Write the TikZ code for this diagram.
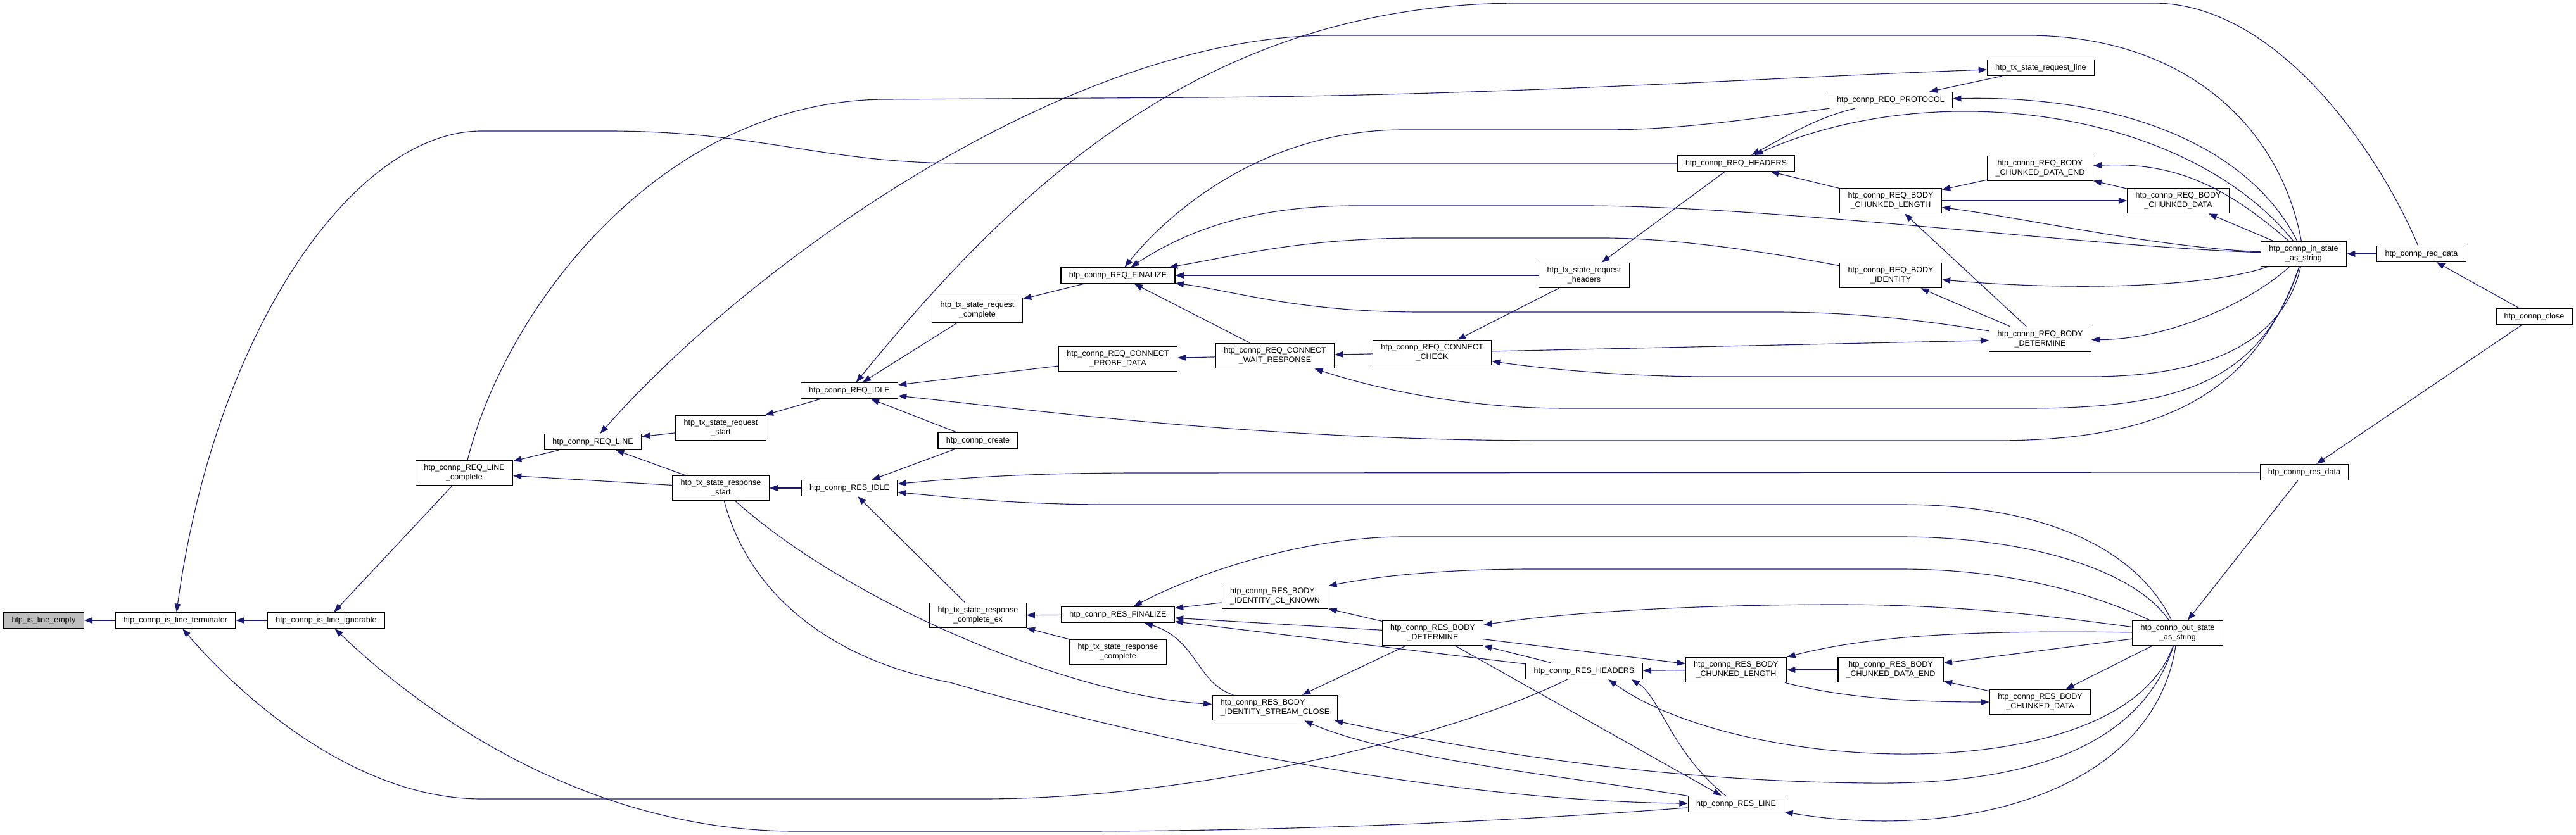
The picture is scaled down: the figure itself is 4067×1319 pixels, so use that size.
\documentclass[tikz,border=0pt]{standalone}
\usepackage{fontspec}
\setmainfont{Liberation Sans}
\usepackage{xcolor}
\usepackage{tikz}
\usetikzlibrary{
    arrows.meta
}
\definecolor{callblue}{RGB}{25,25,112}

\begin{document}
\begin{tikzpicture}[
        x=0.025cm, y=-0.025cm,
        fn/.style={
            rectangle,
            draw=black,
            line width=0.9pt,
            fill=white,
            align=center,
            font=\fontsize{8.9}{10.7}\selectfont,
            inner xsep=0.32cm,
            inner ysep=0.16cm,
            minimum height=0.625cm
        },
        focus/.style={
            fn,
            fill=black!25
        },
        call/.style={
            -{Triangle[length=0.33cm,width=0.24cm]},
            draw=callblue,
            line width=0.8pt
        }
    ]

    \useasboundingbox (0,0) rectangle (4067,1319);

    \node[focus] (le) at (69,980) {htp\_is\_line\_empty};
    \node[fn] (term) at (277,980) {htp\_connp\_is\_line\_terminator};
    \node[fn] (ign) at (515,980) {htp\_connp\_is\_line\_ignorable};
    \node[fn] (rlc) at (733,747) {htp\_connp\_REQ\_LINE\\\_complete};
    \node[fn] (rl) at (936,698) {htp\_connp\_REQ\_LINE};
    \node[fn] (tsrqs) at (1138,676) {htp\_tx\_state\_request\\\_start};
    \node[fn] (tsrss) at (1138,771) {htp\_tx\_state\_response\\\_start};
    \node[fn] (rqidle) at (1341,617) {htp\_connp\_REQ\_IDLE};
    \node[fn] (rsidle) at (1341,771) {htp\_connp\_RES\_IDLE};
    \node[fn] (tsrqc) at (1543,490) {htp\_tx\_state\_request\\\_complete};
    \node[fn] (create) at (1544,696) {htp\_connp\_create};
    \node[fn] (tsrsce) at (1544,972) {htp\_tx\_state\_response\\\_complete\_ex};
    \node[fn] (rqfin) at (1765,435) {htp\_connp\_REQ\_FINALIZE};
    \node[fn] (probe) at (1765,567) {htp\_connp\_REQ\_CONNECT\\\_PROBE\_DATA};
    \node[fn] (rsfin) at (1765,971) {htp\_connp\_RES\_FINALIZE};
    \node[fn] (tsrsc) at (1765,1030) {htp\_tx\_state\_response\\\_complete};
    \node[fn] (wait) at (2013,562) {htp\_connp\_REQ\_CONNECT\\\_WAIT\_RESPONSE};
    \node[fn, align=left] (clk) at (2013,942) {htp\_connp\_RES\_BODY\\\_IDENTITY\_CL\_KNOWN};
    \node[fn, align=left] (sclose) at (2013,1118) {htp\_connp\_RES\_BODY\\\_IDENTITY\_STREAM\_CLOSE};
    \node[fn] (check) at (2261,557) {htp\_connp\_REQ\_CONNECT\\\_CHECK};
    \node[fn] (rsdet) at (2262,1000) {htp\_connp\_RES\_BODY\\\_DETERMINE};
    \node[fn] (tsrqh) at (2501,435) {htp\_tx\_state\_request\\\_headers};
    \node[fn] (rshead) at (2501,1060) {htp\_connp\_RES\_HEADERS};
    \node[fn] (rqhead) at (2741,258) {htp\_connp\_REQ\_HEADERS};
    \node[fn] (rscl) at (2741,1058) {htp\_connp\_RES\_BODY\\\_CHUNKED\_LENGTH};
    \node[fn] (rsline) at (2741,1270) {htp\_connp\_RES\_LINE};
    \node[fn] (proto) at (2985,158) {htp\_connp\_REQ\_PROTOCOL};
    \node[fn] (rqcl) at (2985,317) {htp\_connp\_REQ\_BODY\\\_CHUNKED\_LENGTH};
    \node[fn] (rqid) at (2985,435) {htp\_connp\_REQ\_BODY\\\_IDENTITY};
    \node[fn] (rsde) at (2985,1058) {htp\_connp\_RES\_BODY\\\_CHUNKED\_DATA\_END};
    \node[fn] (tsrql) at (3222,107) {htp\_tx\_state\_request\_line};
    \node[fn] (rqde) at (3221,266) {htp\_connp\_REQ\_BODY\\\_CHUNKED\_DATA\_END};
    \node[fn] (rqdet) at (3221,536) {htp\_connp\_REQ\_BODY\\\_DETERMINE};
    \node[fn] (rsdata) at (3221,1109) {htp\_connp\_RES\_BODY\\\_CHUNKED\_DATA};
    \node[fn] (rqdata) at (3439,317) {htp\_connp\_REQ\_BODY\\\_CHUNKED\_DATA};
    \node[fn] (outs) at (3438,1000) {htp\_connp\_out\_state\\\_as\_string};
    \node[fn] (ins) at (3637,401) {htp\_connp\_in\_state\\\_as\_string};
    \node[fn] (resd) at (3638,746) {htp\_connp\_res\_data};
    \node[fn] (reqd) at (3823,401) {htp\_connp\_req\_data};
    \node[fn] (close) at (4001,500) {htp\_connp\_close};

    % left end
    \draw[call] (term) -- (le);
    \draw[call] (ign) -- (term);
    \draw[call] (rqhead) -- (1520,258) .. controls (1300,258) and (1200,207) .. (960,207) -- (760,207) .. controls (560,207) and (340,520) .. (term);
    \draw[call] (rshead) .. controls (2300,1160) and (1900,1262) .. (1550,1262) -- (760,1262) .. controls (560,1262) and (380,1100) .. (term);
    \draw[call] (rlc) -- (ign);
    \draw[call] (rsline) .. controls (2350,1300) and (2000,1313) .. (1700,1313) -- (1250,1313) .. controls (900,1310) and (640,1100) .. (ign);
    \draw[call] (rl) -- (rlc);
    \draw[call] (tsrss) -- (rlc);
    \draw[call] (rlc) .. controls (800,480) and (1050,157) .. (1400,157) -- (1900,154) .. controls (2400,150) and (2800,122) .. (tsrql);
    \draw[call] (tsrss) -- (rl);
    \draw[call] (tsrqs) -- (rl);
    \draw[call] (ins) .. controls (3600,200) and (3450,56) .. (3200,56) -- (2100,56) .. controls (1700,56) and (1200,400) .. (rl);
    \draw[call] (rqidle) -- (tsrqs);
    \draw[call] (rsidle) -- (tsrss);

    % request side
    \draw[call] (reqd) .. controls (3760,250) and (3600,5) .. (3400,5) -- (2400,5) .. controls (1900,5) and (1600,300) .. (rqidle);
    \draw[call] (ins) .. controls (3560,620) and (3420,696) .. (3150,696) -- (2450,696) .. controls (2000,696) and (1650,650) .. (rqidle);
    \draw[call] (probe) -- (rqidle);
    \draw[call] (create) -- (rqidle);
    \draw[call] (tsrqc) -- (rqidle);
    \draw[call] (rqfin) -- (tsrqc);
    \draw[call] (proto) .. controls (2750,190) and (2650,205) .. (2531,205) -- (2216,205) .. controls (2000,205) and (1850,330) .. (rqfin);
    \draw[call] (ins) .. controls (3300,390) and (2800,325) .. (2500,325) -- (2140,325) .. controls (1950,325) and (1850,380) .. (rqfin);
    \draw[call] (rqid) .. controls (2800,400) and (2650,376) .. (2531,376) -- (2244,376) .. controls (2050,376) and (1950,405) .. (rqfin);
    \draw[call] (tsrqh) -- (rqfin);
    \draw[call] (rqdet) .. controls (3000,500) and (2900,493) .. (2800,493) -- (2244,493) .. controls (2050,493) and (1950,460) .. (rqfin);
    \draw[call] (wait) -- (rqfin);
    \draw[call] (wait) -- (probe);
    \draw[call] (check) -- (wait);
    \draw[call] (ins) .. controls (3570,600) and (3450,645) .. (3200,645) -- (2474,645) .. controls (2300,645) and (2160,610) .. (wait);
    \draw[call] (ins) .. controls (3600,560) and (3450,595) .. (3300,595) -- (2700,595) .. controls (2550,595) and (2420,580) .. (check);
    \draw[call] (check) -- (rqdet);
    \draw[call] (tsrqh) -- (check);
    \draw[call] (rqhead) -- (tsrqh);
    \draw[call] (proto) .. controls (2870,185) and (2820,215) .. (rqhead);
    \draw[call] (ins) .. controls (3450,170) and (3050,120) .. (rqhead);
    \draw[call] (tsrql) -- (proto);
    \draw[call] (ins) .. controls (3550,230) and (3350,150) .. (proto);
    \draw[call] (rqcl) -- (rqhead);
    \draw[call] (rqde) -- (rqcl);
    \draw[call] (ins) .. controls (3400,390) and (3200,345) .. (rqcl);
    \draw[call] (rqdet) -- (rqcl);
    \draw[call] (rqcl) -- (rqdata);
    \draw[call] (ins) .. controls (3520,300) and (3440,255) .. (rqde);
    \draw[call] (rqdata) -- (rqde);
    \draw[call] (ins) -- (rqdata);
    \draw[call] (ins) .. controls (3500,450) and (3300,462) .. (rqid);
    \draw[call] (rqdet) -- (rqid);
    \draw[call] (ins) .. controls (3550,480) and (3420,537) .. (rqdet);
    \draw[call] (reqd) -- (ins);
    \draw[call] (close) -- (reqd);
    \draw[call] (close) -- (resd);

    % response side
    \draw[call] (create) -- (rsidle);
    \draw[call] (tsrsce) -- (rsidle);
    \draw[call] (resd) -- (1800,747) .. controls (1600,747) and (1500,757) .. (rsidle);
    \draw[call] (outs) .. controls (3380,880) and (3250,797) .. (3000,797) -- (1750,797) .. controls (1600,797) and (1500,785) .. (rsidle);
    \draw[call] (resd) -- (outs);
    \draw[call] (rsfin) -- (tsrsce);
    \draw[call] (tsrsc) -- (tsrsce);
    \draw[call] (outs) .. controls (3370,900) and (3200,848) .. (3000,848) -- (2216,848) .. controls (2050,848) and (1880,910) .. (rsfin);
    \draw[call] (clk) -- (rsfin);
    \draw[call] (rsdet) -- (rsfin);
    \draw[call] (rshead) -- (rsfin);
    \draw[call] (sclose) .. controls (1890,1080) and (1890,1010) .. (rsfin);
    \draw[call] (outs) .. controls (3330,950) and (3200,899) .. (3000,899) -- (2420,899) .. controls (2250,899) and (2150,915) .. (clk);
    \draw[call] (rsdet) -- (clk);
    \draw[call] (outs) .. controls (3250,975) and (3100,955) .. (2900,955) .. controls (2650,955) and (2450,970) .. (rsdet);
    \draw[call] (rshead) -- (rsdet);
    \draw[call] (rsdet) -- (sclose);
    \draw[call] (rsdet) -- (rscl);
    \draw[call] (rsdet) -- (rsline);
    \draw[call] (outs) .. controls (3350,1250) and (2750,1225) .. (rshead.-19);
    \draw[call] (rscl) -- (rshead);
    \draw[call] (rsline) .. controls (2640,1190) and (2620,1100) .. (rshead.-10);
    \draw[call] (rsline) .. controls (2500,1230) and (2200,1200) .. (sclose);
    \draw[call] (tsrss) .. controls (1350,960) and (1700,1100) .. (sclose);
    \draw[call] (tsrss) .. controls (1180,930) and (1300,1040) .. (1500,1078) .. controls (1850,1180) and (2300,1265) .. (rsline);
    \draw[call] (outs) .. controls (3380,1180) and (3200,1240) .. (2950,1237) .. controls (2600,1234) and (2300,1180) .. (sclose);
    \draw[call] (rsde) -- (rscl);
    \draw[call] (outs) .. controls (3100,995) and (2950,1005) .. (rscl);
    \draw[call] (rscl) .. controls (2900,1100) and (3000,1109) .. (rsdata);
    \draw[call] (outs) -- (rsde);
    \draw[call] (rsdata) -- (rsde);
    \draw[call] (outs) -- (rsdata);
    \draw[call] (outs) .. controls (3400,1250) and (3100,1330) .. (rsline);

\end{tikzpicture}
\end{document}
